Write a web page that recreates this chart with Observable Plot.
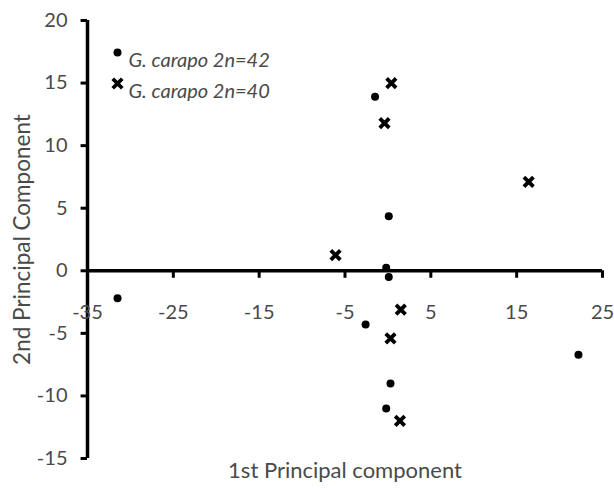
<!DOCTYPE html>
<html>
<head>
<meta charset="utf-8">
<script src="https://cdn.jsdelivr.net/npm/d3@7"></script>
<script src="https://cdn.jsdelivr.net/npm/@observablehq/plot@0.6"></script>
<style>
  html, body { margin: 0; padding: 0; background: white; }
</style>
</head>
<body>
<div id="chart"></div>
<script>
// Series: G. carapo 2n=42 (dots)
const pc1_n42 = [-31.5, -1.5, 0.1, -0.2, 0.1, -2.6, 0.3, -0.2, 22.2];
const pc2_n42 = [-2.2, 13.9, 4.35, 0.25, -0.5, -4.3, -9.0, -11.0, -6.7];
// Series: G. carapo 2n=40 (crosses)
const pc1_n40 = [0.4, -0.4, 16.4, -6.1, 1.5, 0.3, 1.4];
const pc2_n40 = [15.0, 11.8, 7.1, 1.25, -3.1, -5.4, -12.0];

const seriesNames = ["G. carapo 2n=42", "G. carapo 2n=40"];
const xTicks = [-35, -25, -15, -5, 5, 15, 25];
const yTicks = [-15, -10, -5, 0, 5, 10, 15, 20];
const xTitle = "1st Principal component";
const yTitle = "2nd Principal Component";

const dots42 = pc1_n42.map((x, i) => ({x, y: pc2_n42[i]}));
const dots40 = pc1_n40.map((x, i) => ({x, y: pc2_n40[i]}));

const textColor = "#4a4a4a";
const xMin = xTicks[0], xMax = xTicks[xTicks.length - 1];
const yMin = yTicks[0], yMax = yTicks[yTicks.length - 1];

const chart = Plot.plot({
  width: 614,
  height: 489,
  marginLeft: 87,
  marginRight: 12,
  marginTop: 20,
  marginBottom: 31,
  x: {domain: [xMin, xMax], axis: null},
  y: {domain: [yMin, yMax], axis: null},
  style: {fontFamily: "Lato, sans-serif", fontSize: "20px", color: textColor, background: "white"},
  marks: [
    // axis lines
    Plot.ruleX([xMin], {y1: yMin, y2: yMax, stroke: "black", strokeWidth: 3.5}),
    Plot.ruleY([0], {x1: xMin, x2: xMax, stroke: "black", strokeWidth: 3.5}),
    // y ticks and labels
    Plot.ruleY(yTicks, {y: d => d, x1: xMin, x2: xMin - 0.75, stroke: "black", strokeWidth: 3}),
    Plot.text(yTicks, {y: d => d, x: xMin, dx: -20, textAnchor: "end", text: d => String(d), fill: textColor}),
    // x ticks and labels at y = 0
    Plot.ruleX(xTicks.slice(1), {x: d => d, y1: 0, y2: -0.6, stroke: "black", strokeWidth: 3}),
    Plot.text(xTicks, {x: d => d, y: 0, dy: 42, text: d => String(d), fill: textColor}),
    // axis titles
    Plot.text([yTitle], {frameAnchor: "left", textAnchor: "middle", dx: -65, rotate: -90, fontSize: 22.5, fill: textColor}),
    Plot.text([xTitle], {frameAnchor: "bottom", dy: 19, fontSize: 22, fill: textColor}),
    // data
    Plot.dot(dots42, {x: "x", y: "y", r: 4, fill: "black", stroke: null}),
    Plot.dot(dots40, {x: "x", y: "y", r: 4.4, symbol: "times", stroke: "black", strokeWidth: 3.8}),
    // legend
    Plot.dot([seriesNames[0]], {frameAnchor: "top-left", dx: 30, dy: 32, r: 4, fill: "black", stroke: null}),
    Plot.dot([seriesNames[1]], {frameAnchor: "top-left", dx: 30, dy: 63, r: 4.4, symbol: "times", stroke: "black", strokeWidth: 3.8}),
    Plot.text([seriesNames[0]], {frameAnchor: "top-left", dx: 41, dy: 32, text: d => d, textAnchor: "start", fontStyle: "italic", fill: textColor}),
    Plot.text([seriesNames[1]], {frameAnchor: "top-left", dx: 41, dy: 63, text: d => d, textAnchor: "start", fontStyle: "italic", fill: textColor})
  ]
});
document.getElementById("chart").appendChild(chart);
</script>
</body>
</html>
